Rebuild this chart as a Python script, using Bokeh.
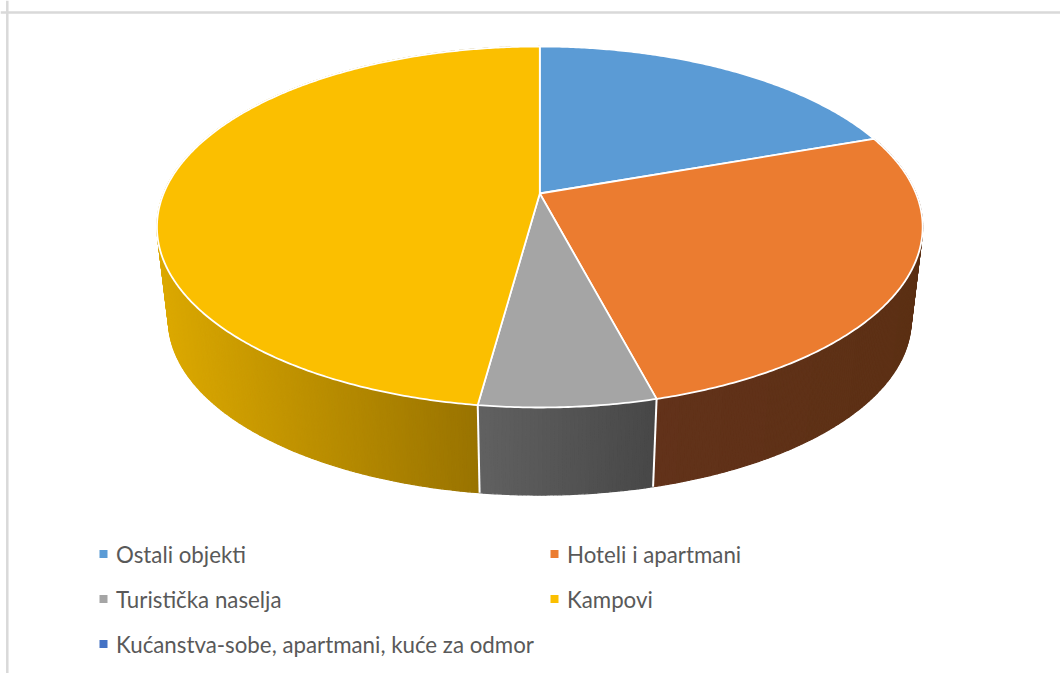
import numpy as np
from bokeh.plotting import figure
from bokeh.models import Span
from bokeh.embed import file_html
from bokeh.resources import INLINE
from bokeh.core.properties import value

# --- data (share of total, %)
categories = ["Ostali objekti", "Hoteli i apartmani", "Turistička naselja", "Kampovi",
              "Kućanstva-sobe, apartmani, kuće za odmor"]
shares = [19.6, 26.3, 6.25, 47.85, 0.0]

# --- styles
top_colors = ["#5B9BD5", "#EB7C30", "#A5A5A5", "#FBBF00", "#4472C4"]
wall_dark = ["#2F5373", "#62321A", "#474747", "#997300", "#2B4A80"]
wall_light = ["#3A6A94", "#5C3014", "#616161", "#DCA900", "#33578F"]
legend_x = [99, 550, 99, 550, 99]
legend_y = [553.5, 553.5, 598.5, 598.5, 643.5]

# --- 3D pie geometry (pixels)
AX, AY = 539.3, 193.0
R, S, K = 376.2, 174.3, 0.1855
DROP, SCALE = 94.0, 0.97


def rim(t_deg):
    t = np.radians(t_deg)
    X, Y = np.sin(t), np.cos(t)
    w = 1 + K * Y
    return R * X / w, -S * Y / w


def top(t):
    dx, dy = rim(t)
    return AX + dx, AY + dy


def bottom(t):
    dx, dy = rim(t)
    return AX + SCALE * dx, AY + DROP + SCALE * dy


p = figure(width=1060, height=673, x_range=(0, 1060), y_range=(673, 0),
           output_backend="svg", toolbar_location=None, min_border=0,
           background_fill_color="white",
           border_fill_color="white", outline_line_color=None)
p.axis.visible = False
p.grid.visible = False

p.add_layout(Span(location=12, dimension="width", line_color="#D9D9D9", line_width=2.5))
p.add_layout(Span(location=6.8, dimension="height", line_color="#D9D9D9", line_width=2.5))

edges = np.concatenate([[0], np.cumsum(shares)]) * 3.6

# walls: strips back to front, shaded across the visible width of each slice
strips = []
for i, (a, b) in enumerate(zip(edges[:-1], edges[1:])):
    if b <= a:
        continue
    n = max(2, int((b - a) / 0.5))
    ts = np.linspace(a, b, n + 1)
    xs_top = top(ts)[0]
    vis = (np.cos(np.radians(ts)) < 0.3)
    if not vis.any():
        continue
    xmin, xmax = xs_top[vis].min(), xs_top[vis].max()
    cd = np.array([int(wall_dark[i][j:j + 2], 16) for j in (1, 3, 5)], float)
    cl = np.array([int(wall_light[i][j:j + 2], 16) for j in (1, 3, 5)], float)
    for t0, t1 in zip(ts[:-1], ts[1:]):
        xt0, yt0 = top(t0)
        xt1, yt1 = top(t1)
        xb0, yb0 = bottom(t0)
        xb1, yb1 = bottom(t1)
        tm = 0.5 * (t0 + t1)
        f = (top(tm)[0] - xmin) / max(1.0, xmax - xmin)
        f = float(np.clip(f, 0, 1))
        if xmax <= AX or i == 2:
            c = cl + (cd - cl) * f
        else:
            c = cd + (cl - cd) * f
        col = "#%02x%02x%02x" % tuple(int(round(v)) for v in c)
        strips.append((np.cos(np.radians(tm)), [xt0, xt1, xb1, xb0], [yt0, yt1, yb1, yb0], col))

strips.sort(key=lambda s: -s[0])
p.patches([s[1] for s in strips], [s[2] for s in strips],
          fill_color=[s[3] for s in strips], line_color=[s[3] for s in strips], line_width=1.2)

# white verticals where slices meet on the front wall
for t in edges[1:-1]:
    if np.cos(np.radians(t)) < 0:
        xt, yt = top(t)
        xb, yb = bottom(t)
        p.line([xt, xb], [yt, yb], line_color="white", line_width=2)

# top face
for i, (a, b) in enumerate(zip(edges[:-1], edges[1:])):
    if b <= a:
        continue
    ts = np.linspace(a, b, max(2, int(b - a) * 2 + 1))
    xs, ys = top(ts)
    p.patch(np.concatenate([[AX], xs]), np.concatenate([[AY], ys]),
            fill_color=top_colors[i], line_color="white", line_width=1.8, line_join="round")

# legend
p.scatter([x + 4 for x in legend_x], legend_y, marker="square", size=8, color=top_colors, line_width=0)
p.text([x + 16.5 for x in legend_x], legend_y, text=categories,
       text_font=value("Lato"), text_font_size="22.3px", text_color="#595959",
       text_baseline="middle", text_align="left")

open("out.html", "w").write(file_html(p, INLINE))
